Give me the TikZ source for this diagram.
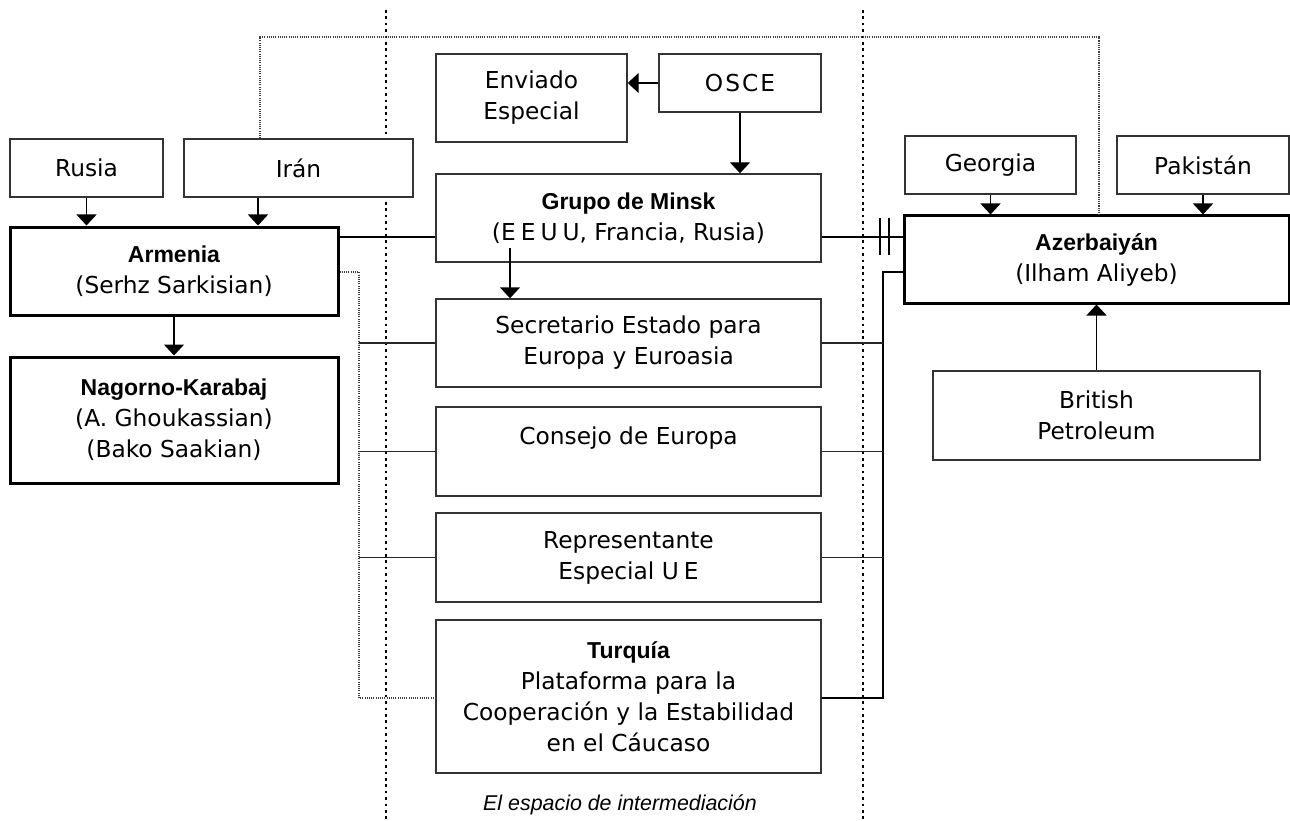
\documentclass[tikz,border=0pt]{standalone}
\usepackage{fontspec}
\setmainfont{DejaVu Sans}
\newfontfamily\titlefont{Liberation Sans}
\usetikzlibrary{arrows.meta}
\newcommand{\boxtitle}[1]{{\titlefont\bfseries\fontsize{23}{31}\selectfont #1}}
\begin{document}
\begin{tikzpicture}[x=1pt,y=-1pt,
  every node/.style={font=\fontsize{23.3}{31}\selectfont},
  box/.style={draw=black!80, line width=1.4pt, inner sep=0pt, align=center, fill=white},
  thickbox/.style={box, draw=black, line width=3pt},
  arr/.style={-{Triangle[width=20pt,length=11pt]}, line width=1.4pt},
  thickline/.style={line width=2.6pt},
  thinline/.style={draw=black!85, line width=1.3pt},
  dotline/.style={draw=black!75, line width=1.1pt, dash pattern=on 1.1pt off 1.1pt},
  sepline/.style={line width=2.6pt, dash pattern=on 2.6pt off 3.8pt}
]
\useasboundingbox (0,0) rectangle (1290,821);
% separators
\draw[sepline] (386,10) -- (386,821);
\draw[sepline] (863,10) -- (863,821);

% nodes
\node[box, minimum width=153, minimum height=58] (rusia) at (86.5,168) {Rusia};
\node[box, minimum width=229, minimum height=58] (iran) at (298.5,168) {Irán};
\node[thickbox, minimum width=328, minimum height=88] (armenia) at (174,271) {\boxtitle{Armenia}\\(Serhz Sarkisian)};
\node[thickbox, minimum width=328, minimum height=126] (nagorno) at (174,420) {\boxtitle{Nagorno-Karabaj}\\(A. Ghoukassian)\\(Bako Saakian)};
\node[box, minimum width=191, minimum height=88] (enviado) at (531.5,98) {Enviado\\Especial};
\node[box, minimum width=162, minimum height=58] (osce) at (740,83) {O\kern2pt S\kern2pt C\kern2pt E};
\node[box, minimum width=385, minimum height=88] (minsk) at (628.5,218) {\boxtitle{Grupo de Minsk}\\(E\kern5pt E\kern5pt U\kern5pt U, Francia, Rusia)};
\node[box, minimum width=385, minimum height=88] (secr) at (628.5,343) {Secretario Estado para\\Europa y Euroasia};
\node[box, minimum width=385, minimum height=89] (consejo) at (628.5,451.5) {Consejo de Europa\\\phantom{E}};
\node[box, minimum width=385, minimum height=89] (repr) at (628.5,557.5) {Representante\\Especial U\kern5pt E};
\node[box, minimum width=385, minimum height=153] (turq) at (628.5,696.5) {\boxtitle{Turquía}\\Plataforma para la\\Cooperación y la Estabilidad\\en el Cáucaso};
\node[box, minimum width=171, minimum height=58] (georgia) at (990.5,165) {Georgia};
\node[box, minimum width=172, minimum height=58] (pakistan) at (1203,165) {Pakistán};
\node[thickbox, minimum width=385, minimum height=87] (azer) at (1096.5,259.5) {\boxtitle{Azerbaiyán}\\(Ilham Aliyeb)};
\node[box, minimum width=327, minimum height=89] (bp) at (1096.5,415.5) {British\\Petroleum};
\node[font=\titlefont\itshape\fontsize{21.4}{26}\selectfont] (caption) at (620,805) {El espacio de intermediación};

% helper coordinates
\coordinate (yA) at (0,237);
\coordinate (yB) at (0,272);
\coordinate (yT) at (0,698);
\coordinate (yTop) at (0,37);
\coordinate (rb) at (883,0);
\coordinate (lb) at (359,0);
\coordinate (ix) at (260,0);
\coordinate (iax) at (258,0);
\coordinate (ax) at (1099,0);
\coordinate (ms) at (510,248);

% thick links
\draw[thickline] (armenia.east |- yA) -- (minsk.west |- yA);
\draw[thickline] (minsk.east |- yA) -- (azer.west |- yA);
\draw[line width=1.3pt] (880,218) -- (880,255) (889,218) -- (889,255);
\draw[thickline] (azer.west |- yB) -- (rb |- yB) -- (rb |- yT) -- (turq.east |- yT);
\foreach \n in {secr,consejo,repr} {
  \draw[thinline] (\n.east) -- (rb |- \n.east);
  \draw[thinline] (lb |- \n.west) -- (\n.west);
}
% dotted links
\draw[dotline] (armenia.east |- yB) -- (lb |- yB) -- (lb |- yT) -- (turq.west |- yT);
\draw[dotline] (ix |- iran.north) -- (ix |- yTop) -- (ax |- yTop) -- (ax |- azer.north);

% arrows
\draw[arr] (rusia.south) -- (rusia.south |- armenia.north);
\draw[arr] (iax |- iran.south) -- (iax |- armenia.north);
\draw[arr] (armenia.south) -- (nagorno.north);
\draw[arr] (osce.west) -- (osce.west -| enviado.east);
\draw[arr] (osce.south) -- (osce.south |- minsk.north);
\draw[arr] (ms) -- (ms |- secr.north);
\draw[arr] (georgia.south) -- (georgia.south |- azer.north);
\draw[arr] (pakistan.south) -- (pakistan.south |- azer.north);
\draw[arr] (bp.north) -- (bp.north |- azer.south);
\end{tikzpicture}
\end{document}
